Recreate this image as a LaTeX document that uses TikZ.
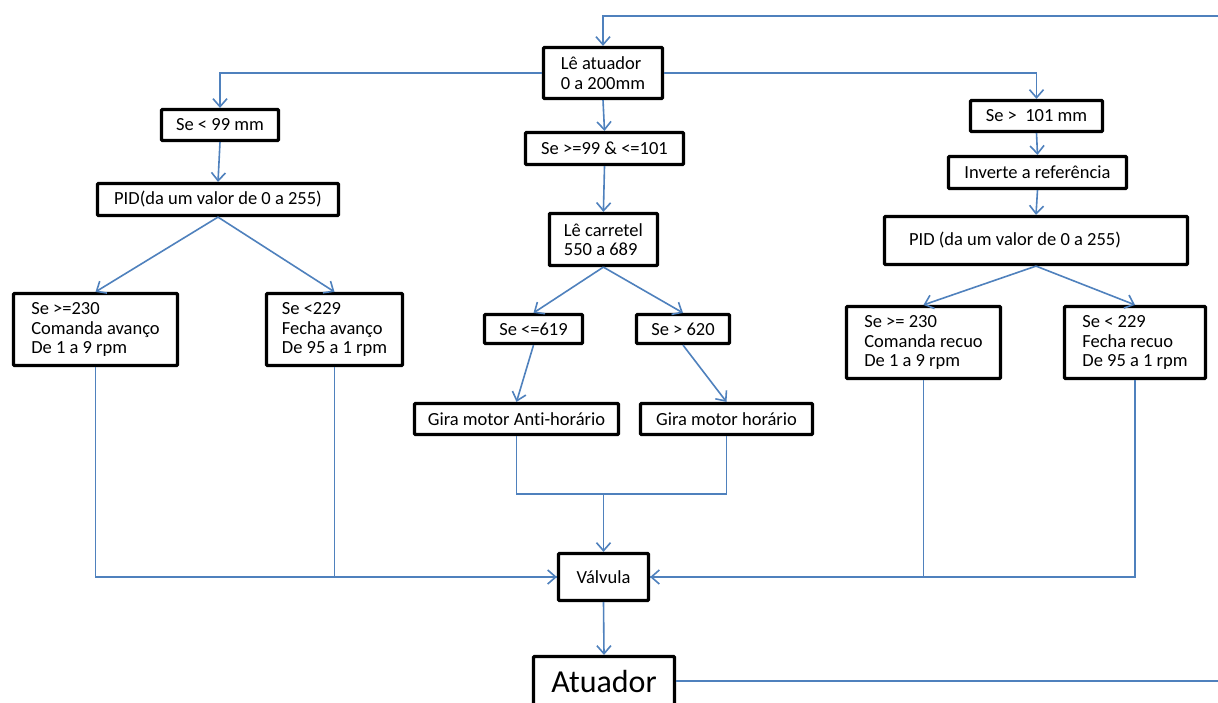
\documentclass[tikz,border=0pt]{standalone}
\usepackage{fontspec}
\setmainfont{Carlito}[Ligatures={NoCommon}]
\usetikzlibrary{arrows.meta}
\definecolor{conncol}{HTML}{4F81BD}
\begin{document}
\begin{tikzpicture}[x=1pt,y=-1pt,
  box/.style={draw=black, line width=3.2pt, fill=white, inner sep=0pt, align=left,
    font=\fontsize{18.5}{19.5}\selectfont, rounded corners=0.8pt},
  sz/.style 2 args={minimum width=#1pt, minimum height=#2pt},
  conn/.style={draw=conncol, line width=1.6pt},
  arr/.style={conn, -{Straight Barb[length=8pt,width=14pt]}}]
\useasboundingbox (0,0) rectangle (1218,702);
\fill[white] (0,0) rectangle (1218,702);

\node[box, sz={119}{51}] (la) at (603,73) {Lê atuador\\0 a 200mm};
\node[box, sz={158}{32}] (sm) at (604.5,148.5) {Se >=99 \& <=101};
\node[box, sz={108}{52}] (lc) at (603.4,239.5) {Lê carretel\\550 a 689};
\node[box, sz={117}{31}] (s99) at (220,125) {Se < 99 mm};
\node[box, sz={241}{32}] (pidl) at (218,199.5) {PID(da um valor de 0 a 255)};
\node[box, sz={164}{72}] (sa) at (95.5,329.5) {Se >=230\\Comanda avanço\\De 1 a 9 rpm};
\node[box, sz={136}{72}] (sb) at (334.5,329.5) {Se <229\\Fecha avanço\\De 95 a 1 rpm};
\node[box, sz={98}{29}] (s619) at (533.5,329) {Se <=619};
\node[box, sz={93}{29}] (s620) at (683,329) {Se > 620};
\node[box, sz={204}{31}] (ga) at (516.5,419) {Gira motor Anti-horário};
\node[box, sz={172}{31}] (gh) at (726.5,419) {Gira motor horário};
\node[box, sz={132}{31}] (s101) at (1036.5,116) {Se >\ \ 101 mm};
\node[box, sz={178}{32}] (inv) at (1037.5,172.5) {Inverte a referência};
\node[box, sz={303}{48}] (pidr) at (1036,240.5) {\raisebox{-4pt}{PID (da um valor de 0 a 255)}\hspace{42pt}};
\node[box, sz={154}{72}] (ra) at (923.5,342.5) {Se >= 230\\Comanda recuo\\De 1 a 9 rpm};
\node[box, sz={141}{72}] (rb) at (1135,342.5) {Se < 229\\Fecha recuo\\De 95 a 1 rpm};
\node[box, sz={90}{47}] (v) at (603.5,577) {Válvula};
\node[box, sz={141}{49}, font=\fontsize{32}{34}\selectfont] (at) at (604,681) {Atuador};

\coordinate (tr) at (1218,16);
\coordinate (br) at (1218,681);
\coordinate (m) at (603.5,494);

\draw[arr] (tr) -| (la.north);
\draw[arr] (la.west) -| (s99.north);
\draw[arr] (la.east) -| (s101.north);
\draw[arr] (la.south) -- (sm.north);
\draw[arr] (sm.south) -- (lc.north);
\draw[arr] (lc.south) -- (s619.north);
\draw[arr] (lc.south) -- (s620.north);
\draw[arr] (s619.south) -- (ga.north);
\draw[arr] (s620.south) -- (gh.north);
\draw[arr] (s99.south) -- (pidl.north);
\draw[arr] (pidl.south) -- (sa.north);
\draw[arr] (pidl.south) -- (sb.north);
\draw[arr] (s101.south) -- (inv.north);
\draw[arr] (inv.south) -- (pidr.north);
\draw[arr] (pidr.south) -- (ra.north);
\draw[arr] (pidr.south) -- (rb.north);
\draw[arr] (sa.south) |- (v.west);
\draw[conn] (sb.south) |- (v.west);
\draw[arr] (rb.south) |- (v.east);
\draw[conn] (ra.south) |- (v.east);
\draw[conn] (ga.south) |- (m) -| (gh.south);
\draw[arr] (m) -- (v.north);
\draw[arr] (v.south) -- (at.north);
\draw[conn] (at.east) -- (br);
\end{tikzpicture}
\end{document}
